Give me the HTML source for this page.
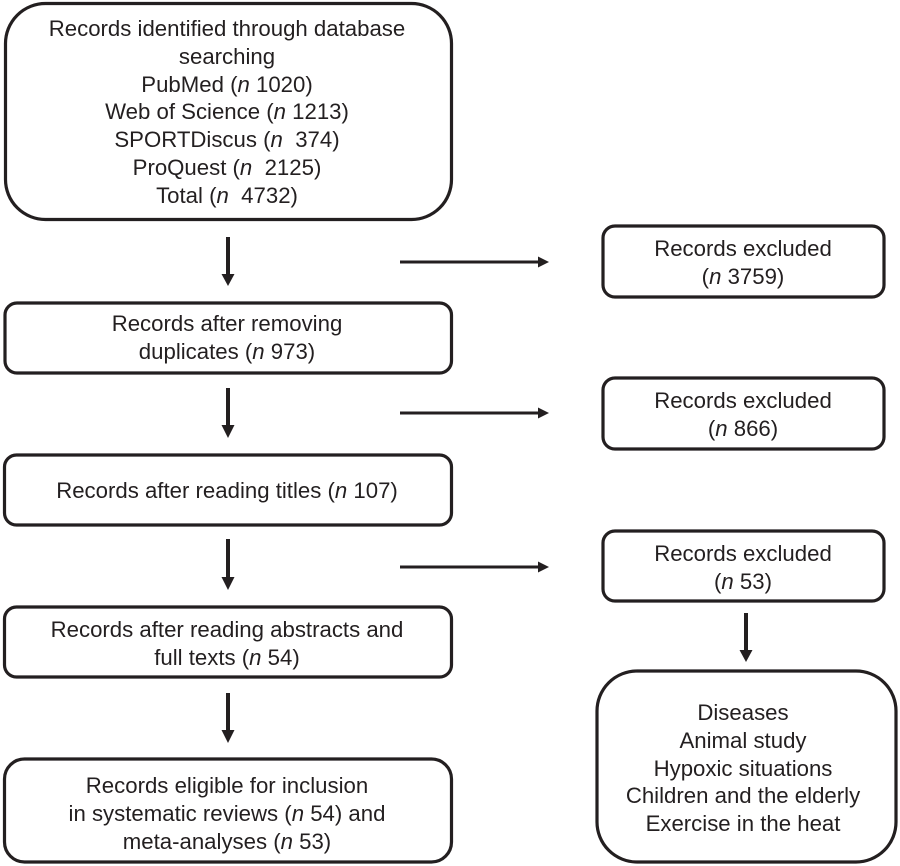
<!DOCTYPE html>
<html><head><meta charset="utf-8"><style>
html,body{margin:0;padding:0;background:#fff;width:900px;height:866px;overflow:hidden}
svg{display:block}
text{font-family:"Liberation Sans",sans-serif;font-size:22.2px;fill:#231f20;text-anchor:middle}
tspan.n{font-style:italic}
rect{fill:#fff;stroke:#231f20;stroke-width:3.2}
line{stroke:#231f20}
polygon{fill:#231f20}
</style></head><body>
<svg width="900" height="866" viewBox="0 0 900 866" xmlns="http://www.w3.org/2000/svg">
<rect x="5.5" y="3.5" width="446" height="216" rx="40" ry="40"/>
<rect x="5" y="303" width="446.500" height="70" rx="12" ry="12"/>
<rect x="4.500" y="455" width="447" height="70" rx="12" ry="12"/>
<rect x="4.500" y="607" width="447" height="70" rx="12" ry="12"/>
<rect x="4.500" y="759" width="447" height="103" rx="20" ry="20"/>
<rect x="603" y="226" width="281" height="71" rx="12" ry="12"/>
<rect x="603" y="378" width="281" height="71" rx="12" ry="12"/>
<rect x="603" y="531" width="281" height="70" rx="12" ry="12"/>
<rect x="597" y="671" width="299" height="191" rx="40" ry="40"/>

<line x1="228" y1="237" x2="228" y2="276" stroke-width="4"/><polygon points="221.500,274 234.500,274 228,286"/>
<line x1="228" y1="388" x2="228" y2="427" stroke-width="4"/><polygon points="221.500,425 234.500,425 228,438"/>
<line x1="228" y1="539" x2="228" y2="579" stroke-width="4"/><polygon points="221.500,577 234.500,577 228,590"/>
<line x1="228" y1="693" x2="228" y2="732" stroke-width="4"/><polygon points="221.500,730 234.500,730 228,743"/>
<line x1="746" y1="613" x2="746" y2="652" stroke-width="4"/><polygon points="739.500,650 752.500,650 746,662"/>
<line x1="400" y1="262" x2="540" y2="262" stroke-width="3"/><polygon points="538,256.500 549,262 538,267.500"/>
<line x1="400" y1="413" x2="540" y2="413" stroke-width="3"/><polygon points="538,407.500 549,413 538,418.500"/>
<line x1="400" y1="567" x2="540" y2="567" stroke-width="3"/><polygon points="538,561.500 549,567 538,572.500"/>

<text x="227" y="36">Records identified through database</text>
<text x="227" y="64">searching</text>
<text x="227" y="92">PubMed (<tspan class="n">n</tspan> 1020)</text>
<text x="227" y="119">Web of Science (<tspan class="n">n</tspan> 1213)</text>
<text x="227" y="147">SPORTDiscus (<tspan class="n">n</tspan>&#160; 374)</text>
<text x="227" y="175">ProQuest (<tspan class="n">n</tspan>&#160; 2125)</text>
<text x="227" y="203">Total (<tspan class="n">n</tspan>&#160; 4732)</text>

<text x="227" y="331">Records after removing</text>
<text x="227" y="359">duplicates (<tspan class="n">n</tspan> 973)</text>
<text x="227" y="498">Records after reading titles (<tspan class="n">n</tspan> 107)</text>
<text x="227" y="637">Records after reading abstracts and</text>
<text x="227" y="665">full texts (<tspan class="n">n</tspan> 54)</text>
<text x="227" y="793">Records eligible for inclusion</text>
<text x="227" y="821">in systematic reviews (<tspan class="n">n</tspan> 54) and</text>
<text x="227" y="849">meta-analyses (<tspan class="n">n</tspan> 53)</text>

<text x="743" y="256">Records excluded</text>
<text x="743" y="284">(<tspan class="n">n</tspan> 3759)</text>
<text x="743" y="408">Records excluded</text>
<text x="743" y="436">(<tspan class="n">n</tspan> 866)</text>
<text x="743" y="561">Records excluded</text>
<text x="743" y="589">(<tspan class="n">n</tspan> 53)</text>

<text x="743" y="720">Diseases</text>
<text x="743" y="748">Animal study</text>
<text x="743" y="776">Hypoxic situations</text>
<text x="743" y="803">Children and the elderly</text>
<text x="743" y="831">Exercise in the heat</text>
</svg>
</body></html>
